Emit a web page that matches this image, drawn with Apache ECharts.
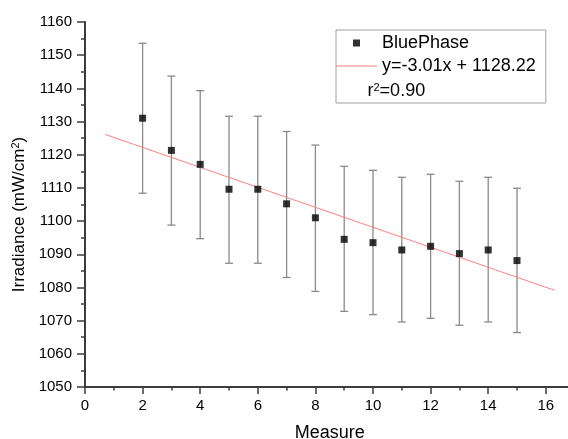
<!DOCTYPE html>
<html>
<head>
<meta charset="utf-8">
<script src="https://cdn.jsdelivr.net/npm/echarts@6/dist/echarts.min.js"></script>
<style>
  html, body { margin: 0; padding: 0; background: #fff; }
  #chart { width: 568px; height: 439px; }
</style>
</head>
<body>
<div id="chart"></div>
<script>
// Irradiance readings per measurement, with the spread of each reading
const measures   = [2, 3, 4, 5, 6, 7, 8, 9, 10, 11, 12, 13, 14, 15];
const irradiance = [1131.0, 1121.3, 1117.1, 1109.6, 1109.6, 1105.2, 1101.0, 1094.5, 1093.5, 1091.3, 1092.4, 1090.2, 1091.3, 1088.1];
const errLow     = [1108.4, 1098.8, 1094.7, 1087.3, 1087.3, 1083.0, 1078.8, 1072.8, 1071.8, 1069.6, 1070.7, 1068.6, 1069.6, 1066.4];
const errHigh    = [1153.6, 1143.7, 1139.3, 1131.6, 1131.6, 1127.0, 1122.9, 1116.5, 1115.3, 1113.2, 1114.1, 1112.0, 1113.2, 1109.9];

// Linear fit shown in the legend
const fitSlope = -3.01;
const fitIntercept = 1128.22;
const fitRange = [0.7, 16.3];
const rSquared = '0.90';

// Axis ranges
const xRange = [0, 17];
const yRange = [1050, 1160];
const xMajorStep = 2;
const yMajorStep = 10;

const FONT = 'Liberation Sans, Arial, sans-serif';
const AXIS_COLOR = '#3c3c3c';
const FIT_COLOR = '#ff8080';

const points = measures.map((m, i) => [m, irradiance[i]]);
const bars = measures.map((m, i) => [m, errLow[i], errHigh[i]]);
const fitName = 'y=' + fitSlope.toFixed(2) + 'x + ' + fitIntercept.toFixed(2);
const fitLine = fitRange.map(x => [x, fitSlope * x + fitIntercept]);

const chart = echarts.init(document.getElementById('chart'), null, { renderer: 'canvas' });

const baseX = {
  type: 'value',
  min: xRange[0],
  max: xRange[1],
  position: 'bottom',
  splitLine: { show: false },
  axisLine: { show: true, onZero: false, lineStyle: { color: AXIS_COLOR, width: 2 } }
};

chart.setOption({
  animation: false,
  backgroundColor: '#fff',
  textStyle: { fontFamily: FONT },
  // fixed plot box; the axis runs on past the right edge of the canvas
  grid: { left: 85, top: 22, width: 489.6, height: 365, containLabel: false, outerBoundsMode: 'none' },
  xAxis: [
    Object.assign({}, baseX, {
      interval: xMajorStep,
      name: 'Measure',
      nameLocation: 'middle',
      nameGap: 37,
      nameTextStyle: { fontSize: 18, color: '#000', fontFamily: FONT },
      axisTick: { show: true, length: 7, lineStyle: { color: AXIS_COLOR, width: 1.5 } },
      axisLabel: { showMaxLabel: false, margin: 11, fontSize: 15, color: '#000', fontFamily: FONT,
                   formatter: v => String(v) }
    }),
    // unit steps drawn as short minor ticks
    Object.assign({}, baseX, {
      interval: 1,
      axisLine: { show: false },
      axisTick: { show: true, length: 3.5, lineStyle: { color: AXIS_COLOR, width: 1.5 } },
      axisLabel: { show: false }
    })
  ],
  yAxis: {
    type: 'value',
    min: yRange[0],
    max: yRange[1],
    interval: yMajorStep,
    name: 'Irradiance (mW/cm{sup|2})',
    nameLocation: 'middle',
    nameGap: 56,
    nameTextStyle: {
      fontSize: 17, color: '#000', fontFamily: FONT,
      padding: [0, 20, 0, 0],
      rich: { sup: { fontSize: 11, verticalAlign: 'top', fontFamily: FONT, color: '#000' } }
    },
    splitLine: { show: false },
    axisLine: { show: true, onZero: false, lineStyle: { color: AXIS_COLOR, width: 2 } },
    axisTick: { show: true, length: 8, lineStyle: { color: AXIS_COLOR, width: 1.5 } },
    minorTick: { show: true, splitNumber: 2, length: 4, lineStyle: { color: AXIS_COLOR, width: 1.5 } },
    axisLabel: { margin: 13, fontSize: 15, color: '#000', fontFamily: FONT, formatter: v => String(v) }
  },
  legend: {
    orient: 'vertical',
    left: 336,
    top: 30,
    padding: [4, 10, 28, 0],
    itemWidth: 41,
    itemHeight: 7,
    itemGap: 5,
    symbolKeepAspect: true,
    borderColor: '#a0a0a0',
    borderWidth: 1,
    backgroundColor: '#fff',
    selectedMode: false,
    textStyle: { fontSize: 18, color: '#000', fontFamily: FONT },
    data: [
      { name: 'BluePhase', icon: 'path://M0,0h10v10h-10z' },
      { name: fitName, icon: 'path://M0,0h41v1h-41z', itemStyle: { color: FIT_COLOR } }
    ]
  },
  graphic: [{
    type: 'text',
    x: 367.5,
    y: 91,
    z: 100,
    style: {
      text: 'r{sup|2}=' + rSquared,
      fontSize: 18,
      fontFamily: FONT,
      fill: '#000',
      verticalAlign: 'middle',
      rich: { sup: { fontSize: 11, verticalAlign: 'top', fontFamily: FONT, fill: '#000' } }
    }
  }],
  series: [
    {
      name: 'error',
      type: 'custom',
      xAxisIndex: 0,
      data: bars,
      z: 2,
      renderItem: function (params, api) {
        const x = api.value(0);
        const lo = api.coord([x, api.value(1)]);
        const hi = api.coord([x, api.value(2)]);
        const hw = 4;
        const st = { stroke: '#8a8a8a', lineWidth: 1.3 };
        return {
          type: 'group',
          children: [
            { type: 'line', shape: { x1: lo[0], y1: lo[1], x2: hi[0], y2: hi[1] }, style: st },
            { type: 'line', shape: { x1: hi[0] - hw, y1: hi[1], x2: hi[0] + hw, y2: hi[1] }, style: st },
            { type: 'line', shape: { x1: lo[0] - hw, y1: lo[1], x2: lo[0] + hw, y2: lo[1] }, style: st }
          ]
        };
      }
    },
    {
      name: fitName,
      type: 'line',
      xAxisIndex: 0,
      data: fitLine,
      symbol: 'none',
      z: 3,
      lineStyle: { color: FIT_COLOR, width: 1 },
      itemStyle: { color: FIT_COLOR }
    },
    {
      name: 'BluePhase',
      type: 'scatter',
      xAxisIndex: 0,
      data: points,
      symbol: 'rect',
      symbolSize: 7,
      z: 4,
      itemStyle: { color: '#000' }
    }
  ]
});
</script>
</body>
</html>
